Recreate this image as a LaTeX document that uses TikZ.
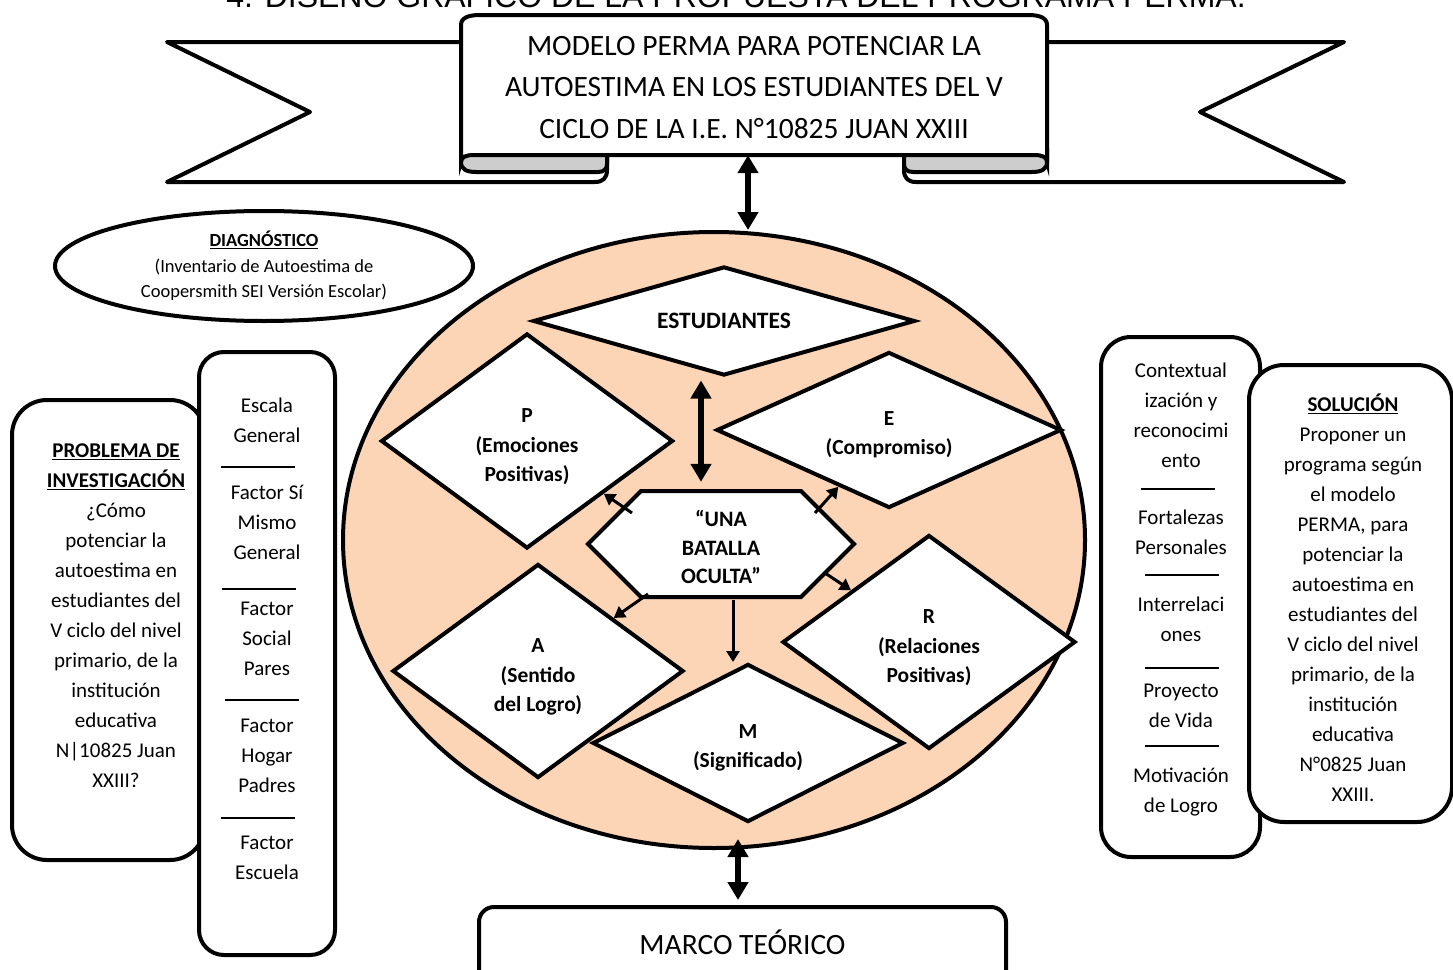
\documentclass[tikz,border=0pt]{standalone}
\usepackage{fontspec}
\setmainfont{Carlito}
\newfontfamily\arialf{Liberation Sans}
\usetikzlibrary{shapes.geometric,arrows.meta}
\definecolor{peach}{RGB}{251,213,181}
\definecolor{foldgrey}{RGB}{205,205,205}
\begin{document}
\begin{tikzpicture}[x=1pt,y=-1pt,
  bd/.style={draw=black, line width=4pt},
  sidetxt/.style={align=center, font=\fontsize{21}{30}\selectfont, inner sep=0pt},
  ctxt/.style={align=center, inner sep=0pt, font=\bfseries\fontsize{21.5}{29.5}\selectfont},
  dia/.style={diamond, draw=black, fill=white, line width=4pt, inner sep=0pt},
  box/.style={draw=black, fill=white, line width=4pt, inner sep=0pt},
  dbl/.style={{Triangle[length=18pt,width=20pt]}-{Triangle[length=18pt,width=20pt]}, line width=6pt},
  sarr/.style={-{Triangle[length=11pt,width=13pt]}, line width=3pt},
  rulel/.style={line width=2pt}]
\useasboundingbox (0,0) rectangle (1453,969);

% title (partly cut at top, as in the reference)
\node[font=\arialf\fontsize{32}{38}\selectfont, anchor=base, inner sep=0pt] (title) at (736,7.5) {4. DISEÑO GRÁFICO DE LA PROPUESTA DEL PROGRAMA PERMA.};

% banner wings
\draw[bd, fill=white, line join=round] (470,42) -- (167,42) -- (310,112) -- (167,182) -- (595,182) .. controls (603,182) and (607,178) .. (607,170) -- (607,150);
\draw[bd, fill=white, line join=round] (1040,42) -- (1344,42) -- (1200,112) -- (1344,182) -- (916,182) .. controls (908,182) and (904,178) .. (904,170) -- (904,150);
% folds
\draw[bd, fill=foldgrey] (461,150) -- (461,162) .. controls (461,169) and (466,172) .. (476,172) -- (598,172) .. controls (604,172) and (607,169) .. (607,164) -- (607,150) -- cycle;
\draw[bd, fill=foldgrey] (1047,150) -- (1047,162) .. controls (1047,169) and (1042,172) .. (1032,172) -- (913,172) .. controls (907,172) and (904,169) .. (904,164) -- (904,150) -- cycle;
% front panel
\draw[bd, fill=white] (461,162) -- (461,25) .. controls (461,18) and (468,15) .. (480,15) -- (1028,15) .. controls (1040,15) and (1047,18) .. (1047,25) -- (1047,162) .. controls (1047,157) and (1042,155) .. (1034,155) -- (474,155) .. controls (466,155) and (461,157) .. (461,162) -- cycle;
\node[font=\fontsize{29.5}{41.5}\selectfont, align=center, minimum width=586pt, minimum height=135pt, inner sep=0pt] (banner) at (754,87.5)
  {MODELO PERMA PARA POTENCIAR LA\\AUTOESTIMA EN LOS ESTUDIANTES DEL V\\CICLO DE LA I.E. N°10825 JUAN XXIII};

% diagnostic ellipse
\node[ellipse, box, minimum width=418pt, minimum height=110pt, align=center, font=\fontsize{18.5}{25.5}\selectfont] (diag) at (264,266)
  {\textbf{\underline{DIAGNÓSTICO}}\\(Inventario de Autoestima de\\Coopersmith SEI Versión Escolar)};

% big ellipse
\node[ellipse, draw=black, fill=peach, line width=4pt, minimum width=742pt, minimum height=616pt] (circ) at (714,540) {};

% diamonds
\node[dia, minimum width=382pt, minimum height=109pt] (S) at (724,321) {};
\node[ctxt, font=\bfseries\fontsize{23.5}{29.5}\selectfont] (St) at (724,321) {ESTUDIANTES};
\node[dia, minimum width=292pt, minimum height=215pt] (P) at (527,441) {};
\node[ctxt] (Pt) at (527,447) {P\\(Emociones\\Positivas)};
\node[dia, minimum width=345pt, minimum height=156pt] (E) at (889,430) {};
\node[ctxt] (Et) at (889,434.5) {E\\(Compromiso)};
\node[dia, minimum width=291pt, minimum height=214pt] (A) at (538,671) {};
\node[ctxt] (At) at (538,677) {A\\(Sentido\\del Logro)};
\node[dia, minimum width=293pt, minimum height=214pt] (R) at (929,642) {};
\node[ctxt] (Rt) at (929,648) {R\\(Relaciones\\Positivas)};
\node[dia, minimum width=311pt, minimum height=158pt] (M) at (748,743) {};
\node[ctxt] (Mt) at (748,748) {M\\(Significado)};

% hexagon
\draw[bd, fill=white, line join=miter] (588,544) -- (641,491) -- (801,491) -- (854,544) -- (801,597) -- (641,597) -- cycle;
\node[minimum width=266pt, minimum height=106pt, inner sep=0pt] (hex) at (721,544) {};
\node[ctxt, font=\bfseries\fontsize{22}{28.5}\selectfont] (hext) at (721,547) {“UNA\\BATALLA\\OCULTA”};

% arrows in the centre
\coordinate (sx) at (701,0);
\draw[dbl, shorten <=3pt, shorten >=9pt] (S.south -| sx) -- (hex.north -| sx);
\coordinate (hP) at (632,513);
\coordinate (hE) at (815,513);
\coordinate (hA) at (648,594);
\coordinate (hR) at (825,573);
\coordinate (hM) at (733,600);
\draw[sarr] (hP) -- (P);
\draw[sarr] (hE) -- (E);
\draw[sarr] (hA) -- (A);
\draw[sarr] (hR) -- (R);
\draw[sarr] (hM) -- (hM |- M.north);

% banner arrow
\coordinate (ax) at (748,0);
\draw[dbl] (circ.north -| ax) -- (banner.south -| ax);

% marco teorico
\node[box, rounded corners=15pt, minimum width=527pt, minimum height=78pt] (marco) at (742.5,946) {};
\node[font=\fontsize{29.5}{34}\selectfont, inner sep=0pt] (marcot) at (742.5,942) {MARCO TEÓRICO};
\coordinate (bx) at (738,0);
\draw[dbl, shorten <=-11pt, shorten >=5pt] (circ.south -| bx) -- (marco.north -| bx);

% left boxes
\node[box, rounded corners=35pt, minimum width=193pt, minimum height=460pt] (prob) at (108.5,630) {};
\node[sidetxt] (probt) at (116,616) {\textbf{\underline{PROBLEMA DE}}\\\textbf{\underline{INVESTIGACIÓN}}\\¿Cómo\\potenciar la\\autoestima en\\estudiantes del\\V ciclo del nivel\\primario, de la\\institución\\educativa\\N|10825 Juan\\XXIII?};

\node[box, rounded corners=25pt, minimum width=136pt, minimum height=603pt] (fac) at (267,653.5) {};
\node[sidetxt] (f1) at (267,420.5) {Escala\\General};
\draw[rulel] (221,467) -- (295,467);
\node[sidetxt] (f2) at (267,522.5) {Factor Sí\\Mismo\\General};
\draw[rulel] (222,589) -- (296,589);
\node[sidetxt] (f3) at (267,639) {Factor\\Social\\Pares};
\draw[rulel] (225,700) -- (299,700);
\node[sidetxt] (f4) at (267,756) {Factor\\Hogar\\Padres};
\draw[rulel] (221,818) -- (295,818);
\node[sidetxt] (f5) at (267,857.5) {Factor\\Escuela};

% right boxes
\node[box, rounded corners=30pt, minimum width=159pt, minimum height=520pt] (rfac) at (1180.5,597) {};
\node[sidetxt] (r1) at (1181,415.5) {Contextual\\ización y\\reconocimi\\ento};
\draw[rulel] (1141,489) -- (1215,489);
\node[sidetxt] (r2) at (1181,532.5) {Fortalezas\\Personales};
\draw[rulel] (1145,575) -- (1219,575);
\node[sidetxt] (r3) at (1181,619.5) {Interrelaci\\ones};
\draw[rulel] (1145,668) -- (1219,668);
\node[sidetxt] (r4) at (1181,705.5) {Proyecto\\de Vida};
\draw[rulel] (1145,746) -- (1219,746);
\node[sidetxt] (r5) at (1181,792.5) {Motivación\\de Logro};

\node[box, rounded corners=35pt, minimum width=203pt, minimum height=457pt] (sol) at (1350.5,593.5) {};
\node[sidetxt] (solt) at (1353,598) {\textbf{\underline{SOLUCIÓN}}\\Proponer un\\programa según\\el modelo\\PERMA, para\\potenciar la\\autoestima en\\estudiantes del\\V ciclo del nivel\\primario, de la\\institución\\educativa\\N°0825 Juan\\XXIII.};

\end{tikzpicture}
\end{document}
